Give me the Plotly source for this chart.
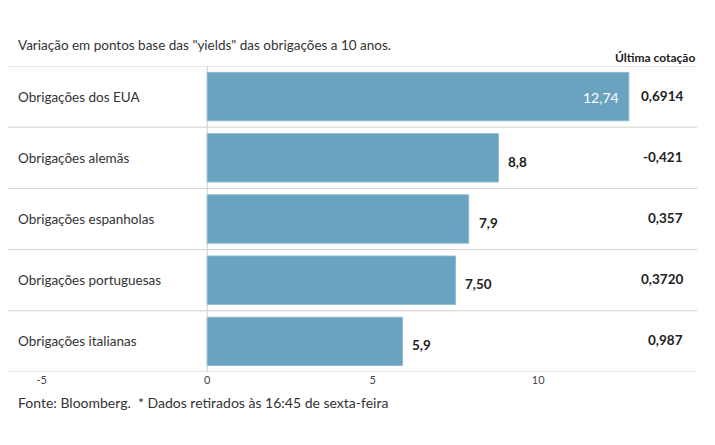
import plotly.graph_objects as go

categories = ["Obrigações dos EUA", "Obrigações alemãs", "Obrigações espanholas",
              "Obrigações portuguesas", "Obrigações italianas"]
values = [12.74, 8.8, 7.9, 7.50, 5.9]
value_labels = ["12,74", "8,8", "7,9", "7,50", "5,9"]
last_quote = ["0,6914", "-0,421", "0,357", "0,3720", "0,987"]
tick_vals = [-5, 0, 5, 10]
tick_text = ["-5", "0", "5", "10"]

FONT = "Lato"
TXT = "#333333"
BAR = "#69a3bf"

fig = go.Figure()
fig.add_trace(go.Bar(
    y=list(range(len(categories))), x=values, orientation="h",
    marker=dict(color=BAR, line=dict(color="#8dbad0", width=1)),
    width=0.79, hoverinfo="skip",
))

ann = []
for i, (cat, v, lab, q) in enumerate(zip(categories, values, value_labels, last_quote)):
    ann.append(dict(x=0, xref="paper", y=i, yref="y", text=cat, showarrow=False,
                    xanchor="left", xshift=8, font=dict(family=FONT, size=13.5, color=TXT)))
    if i == 0:
        ann.append(dict(x=v, xref="x", y=i, yref="y", text=lab, showarrow=False,
                        xanchor="right", xshift=-8, yshift=-1,
                        font=dict(family=FONT, size=14, color="white")))
    else:
        ann.append(dict(x=v, xref="x", y=i, yref="y", text="<b>%s</b>" % lab, showarrow=False,
                        xanchor="left", xshift=8, yshift=-4,
                        font=dict(family=FONT, size=13.5, color="#222222")))
    ann.append(dict(x=1, xref="paper", y=i, yref="y", text="<b>%s</b>" % q, showarrow=False,
                    xanchor="right", xshift=-12, yshift=1,
                    font=dict(family=FONT, size=13.5, color="#222222")))

ann.append(dict(x=0, xref="paper", y=1, yref="paper", yshift=21,
                text='Variação em pontos base das "yields" das obrigações a 10 anos.',
                showarrow=False, xanchor="left", yanchor="middle", xshift=8,
                font=dict(family=FONT, size=13.5, color=TXT)))
ann.append(dict(x=1, xref="paper", y=1, yref="paper", yshift=9, text="<b>Última cotação</b>",
                showarrow=False, xanchor="right", yanchor="middle",
                font=dict(family=FONT, size=12, color="#222222")))
ann.append(dict(x=0, xref="paper", y=0, yref="paper", yshift=-30,
                text="Fonte: Bloomberg.  * Dados retirados às 16:45 de sexta-feira",
                showarrow=False, xanchor="left", yanchor="middle", xshift=8,
                font=dict(family=FONT, size=14, color=TXT)))

shapes = []
for k in range(len(categories)):
    shapes.append(dict(type="line", xref="paper", x0=0, x1=1, yref="y", y0=k - 0.5, y1=k - 0.5,
                       line=dict(color="#d0d0d0", width=1)))
shapes.append(dict(type="line", xref="paper", x0=0, x1=1, yref="y",
                   y0=len(categories) - 0.5, y1=len(categories) - 0.5,
                   line=dict(color="#c8c8c8", width=1)))
shapes.append(dict(type="line", xref="x", x0=0, x1=0, yref="paper", y0=0, y1=1,
                   line=dict(color="#d0d0d0", width=1), layer="below"))

fig.update_layout(
    width=707, height=437,
    margin=dict(l=0, r=18, t=58, b=73),
    paper_bgcolor="white", plot_bgcolor="white",
    showlegend=False,
    xaxis=dict(range=[-6.02, 14.8], tickvals=tick_vals, ticktext=tick_text,
               showgrid=False, zeroline=False, showline=False, ticks="",
               tickfont=dict(family=FONT, size=11, color="#444444"), fixedrange=True),
    yaxis=dict(range=[len(categories) - 0.5, -0.5], showticklabels=False, showgrid=False,
               zeroline=False, showline=False, fixedrange=True),
    annotations=ann, shapes=shapes,
    bargap=0.2,
)

fig.write_html("out.html")
